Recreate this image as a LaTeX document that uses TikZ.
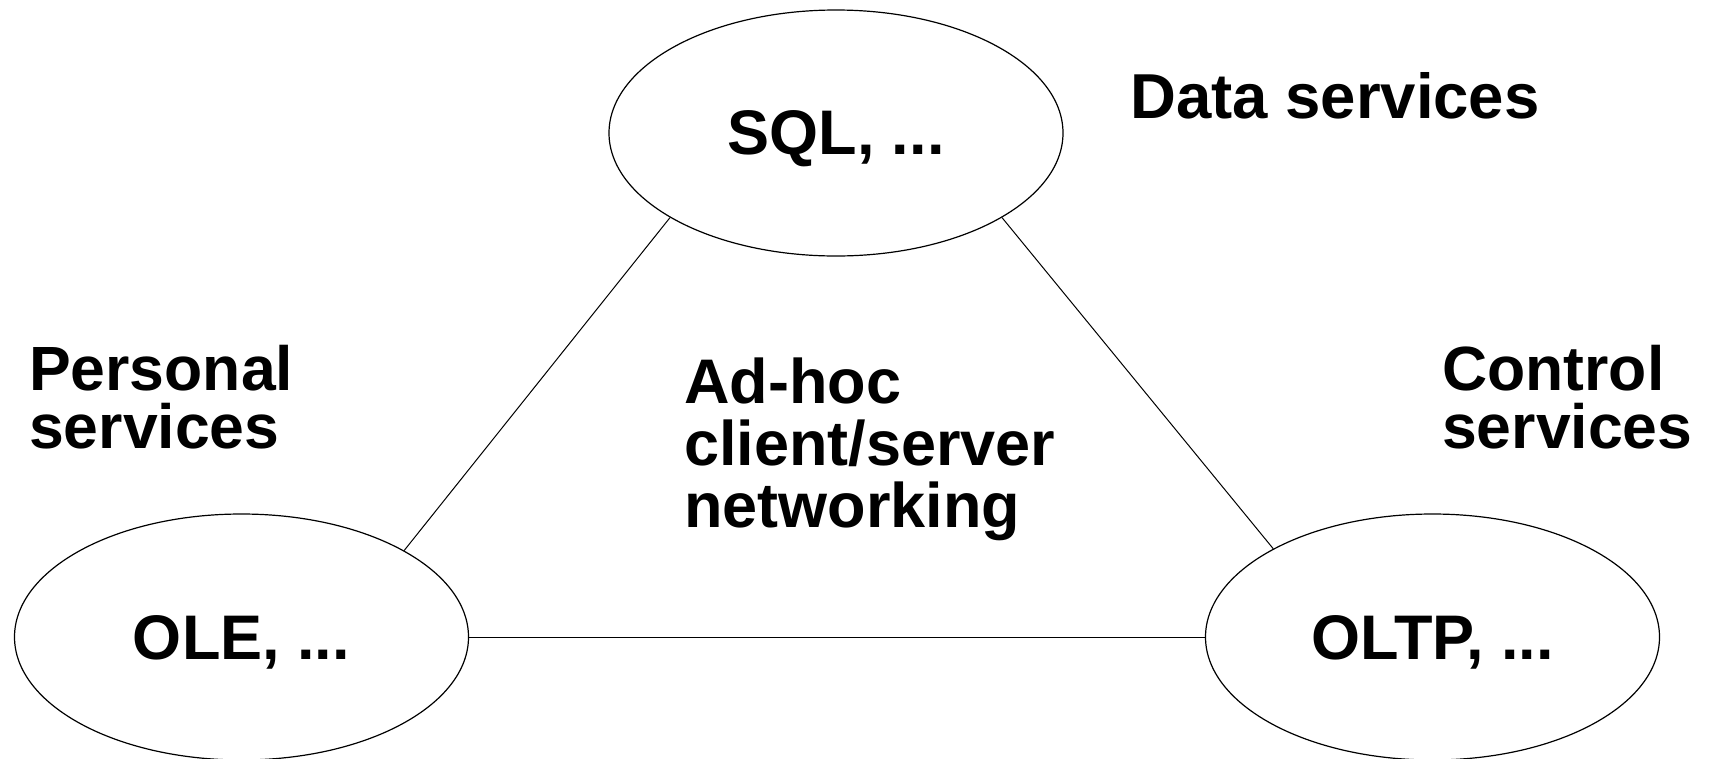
\documentclass[tikz,border=0pt]{standalone}
\usepackage{fontspec}
\setmainfont{Liberation Sans}
\usetikzlibrary{shapes.geometric}
\tikzset{
  svc/.style={draw, ellipse, line width=1.2pt, inner sep=0pt,
    minimum width=454pt, minimum height=246pt, text depth=0pt,
    font=\bfseries\fontsize{63}{63}\selectfont},
  lbl/.style={anchor=base west, inner sep=0pt, align=left,
    font=\bfseries\fontsize{62.5}{58}\selectfont},
  link/.style={line width=1pt}
}
\begin{document}
\begin{tikzpicture}[x=1pt,y=-1pt]
\useasboundingbox[fill=white] (0,0) rectangle (1712,758);
\node[svc] (sql)  at (836,133)    {SQL, ...};
\node[svc] (ole)  at (241.5,637)  {OLE, ...};
\node[svc] (oltp) at (1432.5,637) {OLTP, ...};
\draw[link] (sql.207) -- (ole.28);
\draw[link] (sql.333) -- (oltp.151.6);
\draw[link] (ole.east) -- (oltp.west);
\node[lbl, font=\bfseries\fontsize{63.5}{63.5}\selectfont] (data) at (1130,118) {Data services};
\node[lbl] (pers) at (29,448) {Personal\\services};
\node[lbl] (ctrl) at (1442,448) {Control\\services};
\node[lbl, font=\bfseries\fontsize{63}{62}\selectfont] (adhoc) at (684,527) {Ad-hoc\\client/server\\networking};
\end{tikzpicture}
\end{document}
